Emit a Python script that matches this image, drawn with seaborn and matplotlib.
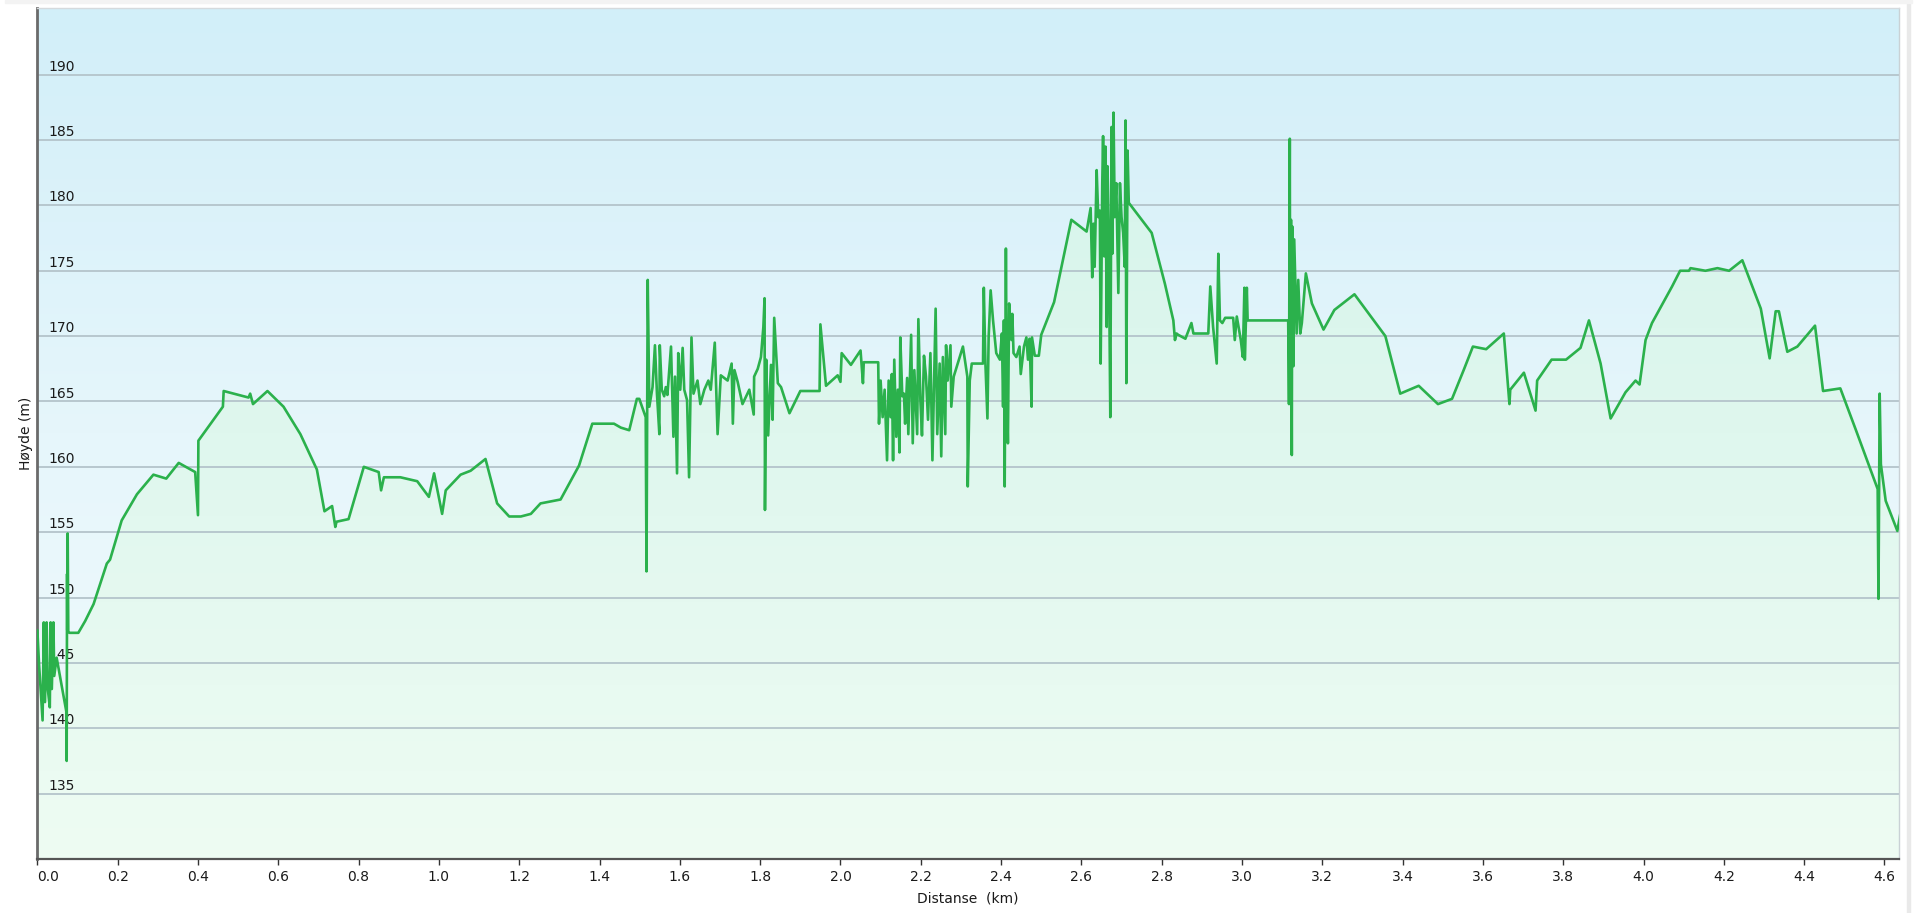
import numpy as np
import pandas as pd
import matplotlib
matplotlib.use('Agg')
import matplotlib.pyplot as plt
import seaborn as sns
from matplotlib.colors import LinearSegmentedColormap
from matplotlib.patches import Rectangle

# hoydeprofil: distanse (km) og hoyde (m)
start_km = [0.000, 0.004, 0.013, 0.016, 0.019, 0.023, 0.026, 0.031, 0.033, 0.036, 0.040, 0.042,
            0.048, 0.072, 0.073, 0.074, 0.0745, 0.0755, 0.077, 0.080, 0.102, 0.119, 0.140, 0.173,
            0.181, 0.210, 0.248, 0.289, 0.321, 0.352, 0.393, 0.400, 0.401, 0.462, 0.464, 0.526,
            0.530, 0.537, 0.573, 0.613, 0.655, 0.696, 0.715, 0.734, 0.742, 0.745, 0.775, 0.813]
start_m = [147.5, 145.0, 140.6, 148.1, 142.0, 148.1, 143.0, 141.6, 148.1, 143.0, 148.1, 144.0,
           145.4, 141.3, 137.5, 151.8, 147.5, 154.9, 147.4, 147.3, 147.3, 148.2, 149.5, 152.6,
           152.9, 155.9, 157.9, 159.4, 159.1, 160.3, 159.6, 156.3, 162.0, 164.6, 165.8, 165.3,
           165.6, 164.8, 165.8, 164.6, 162.5, 159.8, 156.6, 157.0, 155.4, 155.8, 156.0, 160.0]

flat_km = [0.850, 0.856, 0.863, 0.904, 0.946, 0.975, 0.988, 1.008, 1.017, 1.054, 1.079, 1.116,
           1.145, 1.175, 1.204, 1.229, 1.253, 1.303, 1.349, 1.382, 1.436, 1.453, 1.474, 1.493,
           1.499, 1.515, 1.517, 1.520]
flat_m = [159.6, 158.2, 159.2, 159.2, 158.9, 157.7, 159.5, 156.4, 158.2, 159.4, 159.7, 160.6,
          157.2, 156.2, 156.2, 156.4, 157.2, 157.5, 160.1, 163.3, 163.3, 163.0, 162.8, 165.2,
          165.2, 163.8, 152.0, 174.3]

noisy_km = [1.524, 1.532, 1.538, 1.543, 1.549, 1.550, 1.555, 1.561, 1.565, 1.569, 1.578, 1.584,
            1.588, 1.593, 1.596, 1.601, 1.607, 1.611, 1.618, 1.623, 1.629, 1.634, 1.644, 1.651,
            1.661, 1.671, 1.677, 1.687, 1.694, 1.702, 1.719, 1.729, 1.732, 1.736, 1.744, 1.756,
            1.773, 1.784, 1.785, 1.794, 1.802, 1.808, 1.811, 1.812, 1.815, 1.820, 1.827, 1.831,
            1.835, 1.844, 1.852, 1.873, 1.900, 1.948, 1.950, 1.964, 1.993, 2.000, 2.003, 2.026,
            2.050, 2.056, 2.058, 2.094, 2.096, 2.100, 2.105, 2.110, 2.116, 2.120, 2.125, 2.128,
            2.131, 2.134, 2.139, 2.143, 2.147, 2.149, 2.154, 2.158, 2.161, 2.166, 2.169, 2.176,
            2.180, 2.184, 2.191, 2.194, 2.199, 2.203, 2.208, 2.213, 2.218, 2.224, 2.229, 2.234,
            2.237, 2.241, 2.247, 2.251, 2.255, 2.261, 2.263, 2.267, 2.274, 2.276, 2.282, 2.292,
            2.305, 2.316, 2.317, 2.322, 2.327, 2.355, 2.357, 2.361, 2.366, 2.369, 2.374, 2.380]
noisy_m = [164.6, 166.1, 169.3, 165.6, 162.5, 169.3, 165.9, 165.4, 166.1, 165.5, 169.2, 162.3,
           166.9, 159.5, 168.7, 165.9, 169.1, 165.9, 165.1, 159.2, 169.9, 165.6, 166.6, 164.8,
           165.9, 166.6, 165.9, 169.5, 162.5, 167.0, 166.6, 167.9, 163.3, 167.4, 166.5, 164.8,
           165.9, 164.0, 166.9, 167.5, 168.4, 170.7, 172.9, 156.7, 168.2, 162.4, 167.8, 163.6,
           171.4, 166.4, 166.1, 164.1, 165.8, 165.8, 170.9, 166.2, 167.0, 166.5, 168.7, 167.8,
           168.9, 166.4, 168.0, 168.0, 163.3, 166.6, 163.8, 165.9, 160.5, 166.6, 163.8, 167.1,
           160.5, 168.2, 162.3, 165.9, 161.1, 169.9, 165.4, 165.6, 163.3, 166.8, 162.5, 170.1,
           161.8, 167.4, 162.5, 171.3, 165.1, 162.4, 168.5, 166.9, 163.6, 168.7, 160.5, 167.6,
           172.1, 162.5, 167.9, 160.8, 168.4, 162.5, 169.3, 166.6, 169.3, 164.6, 166.9, 167.9,
           169.2, 166.9, 158.5, 166.6, 167.9, 167.9, 173.7, 167.9, 163.7, 169.9, 173.5, 171.2]

top_km = [2.388, 2.397, 2.402, 2.405, 2.407, 2.409, 2.412, 2.414, 2.417, 2.420, 2.423, 2.426,
          2.428, 2.431, 2.438, 2.446, 2.449, 2.457, 2.463, 2.467, 2.471, 2.476, 2.477, 2.484,
          2.494, 2.500, 2.532, 2.575, 2.613, 2.623, 2.627, 2.630, 2.633, 2.638, 2.642, 2.646,
          2.648, 2.652, 2.654, 2.657, 2.660, 2.663, 2.665, 2.668, 2.672, 2.675, 2.677, 2.680,
          2.683, 2.687, 2.692, 2.696, 2.700, 2.704, 2.708, 2.710, 2.712, 2.715, 2.718, 2.775,
          2.808, 2.829, 2.833, 2.837, 2.841, 2.859, 2.874, 2.879, 2.916, 2.921, 2.928, 2.937,
          2.941, 2.945, 2.951, 2.958, 2.978, 2.982, 2.987, 2.997, 3.002, 3.006, 3.007, 3.012,
          3.014, 3.020, 3.115, 3.117, 3.119, 3.120, 3.122, 3.124, 3.125, 3.128, 3.130, 3.134,
          3.136, 3.140, 3.145, 3.149, 3.159, 3.174, 3.203, 3.230, 3.280, 3.357]
top_m = [168.7, 168.2, 170.2, 164.6, 171.2, 158.5, 176.7, 166.4, 161.8, 172.5, 171.2, 169.7,
         171.7, 168.7, 168.4, 169.2, 167.1, 169.2, 169.9, 168.2, 169.8, 164.6, 169.9, 168.5,
         168.5, 170.1, 172.6, 178.9, 178.0, 179.8, 174.5, 178.6, 175.3, 182.7, 179.1, 179.6,
         167.9, 181.7, 185.3, 176.1, 184.5, 170.7, 183.0, 177.9, 163.8, 186.0, 176.3, 187.1,
         179.1, 181.7, 173.3, 181.7, 179.1, 177.9, 175.3, 186.5, 166.4, 184.2, 180.2, 177.9,
         174.0, 171.2, 169.7, 170.2, 170.1, 169.8, 171.0, 170.2, 170.2, 173.8, 170.7, 167.9,
         176.3, 171.2, 171.0, 171.4, 171.4, 169.7, 171.5, 169.7, 168.4, 173.7, 168.2, 173.7,
         171.2, 171.2, 171.2, 164.8, 185.1, 166.1, 178.9, 160.9, 178.4, 167.7, 177.4, 172.8,
         170.2, 174.3, 170.2, 171.0, 174.8, 172.5, 170.5, 172.0, 173.2, 170.0]

end_km = [3.394, 3.440, 3.488, 3.523, 3.552, 3.575, 3.608, 3.652, 3.666, 3.668, 3.702, 3.731,
          3.735, 3.771, 3.807, 3.843, 3.864, 3.893, 3.918, 3.955, 3.980, 3.990, 4.005, 4.021,
          4.071, 4.091, 4.113, 4.117, 4.154, 4.184, 4.213, 4.246, 4.292, 4.314, 4.329, 4.337,
          4.358, 4.383, 4.427, 4.447, 4.490, 4.529, 4.566, 4.583, 4.585, 4.588, 4.591, 4.603,
          4.632, 4.641]
end_m = [165.6, 166.2, 164.8, 165.2, 167.4, 169.2, 169.0, 170.2, 164.8, 165.9, 167.2, 164.3,
         166.6, 168.2, 168.2, 169.1, 171.2, 167.9, 163.7, 165.7, 166.6, 166.3, 169.7, 171.0,
         173.8, 175.0, 175.0, 175.2, 175.0, 175.2, 175.0, 175.8, 172.1, 168.3, 171.9, 171.9,
         168.8, 169.2, 170.8, 165.8, 166.0, 162.8, 159.7, 158.3, 149.9, 165.6, 160.2, 157.4,
         155.1, 156.7]

y_ticks = list(range(135, 191, 5))
x_ticks = [round(0.2 * i, 1) for i in range(24)]

df = pd.DataFrame({
    'km': start_km + flat_km + noisy_km + top_km + end_km,
    'hoyde': start_m + flat_m + noisy_m + top_m + end_m,
})

sns.set_style('white')
plt.rcParams['font.family'] = ['DejaVu Sans']

fig = plt.figure(figsize=(19.16, 9.13), dpi=100)
ax = fig.add_axes([0.0195, 0.0592, 0.9716, 0.932])

# ramme rundt (lysegraa kant til hoyre og oppe)
fig.patches.append(Rectangle((1907 / 1916, 0), 3 / 1916, 1, transform=fig.transFigure,
                             color='#e9e9e9', zorder=0))
fig.patches.append(Rectangle((5 / 1916, 1 - 3 / 913), 1 - 9 / 1916, 3 / 913,
                             transform=fig.transFigure, color='#f3f3f3', zorder=0))

# bakgrunn: lyseblaa gradient
grad = np.linspace(0, 1, 256).reshape(-1, 1)
bg = LinearSegmentedColormap.from_list('bg', ['#d2eff9', '#e6f6fb', '#f2fbfd'])
ax.imshow(grad, extent=[0, 1, 0, 1], transform=ax.transAxes, aspect='auto',
          cmap=bg, zorder=0, interpolation='bicubic')

# gronn fyll under kurven
poly = ax.fill_between(df['km'], df['hoyde'], 130, color='none', linewidth=0)
fill = LinearSegmentedColormap.from_list('fill', ['#d3f3ea', '#dff7ee', '#eefcf3'])
im = ax.imshow(grad, extent=[0, 1, 0, 1], transform=ax.transAxes, aspect='auto',
               cmap=fill, zorder=0.2, interpolation='bicubic')
im.set_clip_path(poly.get_paths()[0], transform=ax.transData)

sns.lineplot(data=df, x='km', y='hoyde', ax=ax, color='#2bb14c', linewidth=1.9,
             estimator=None, sort=False, zorder=3)

ax.set_xlim(0, 4.636)
ax.set_ylim(130, 195.1)
ax.set_yticks(y_ticks)
ax.set_yticklabels([])
ax.tick_params(axis='y', length=0)
ax.grid(axis='y', color='#b4c4cb', linewidth=1.3)
ax.set_axisbelow(True)
for v in y_ticks:
    ax.text(0.0057, v + 0.3, str(v), transform=ax.get_yaxis_transform(),
            ha='left', va='baseline', fontsize=10, color='#1a1a1a', zorder=2)

ax.set_xticks(x_ticks)
ax.set_xticklabels([f'{t:.1f}' for t in x_ticks])
ax.tick_params(axis='x', direction='out', length=4, width=1, pad=4,
               labelsize=10, colors='#333333', labelcolor='#1a1a1a', bottom=True)
ax.get_xticklabels()[0].set_ha('left')

ax.set_xlabel('Distanse  (km)', fontsize=10, color='#1a1a1a', labelpad=5)
ax.set_ylabel('Høyde (m)', fontsize=10, color='#1a1a1a', labelpad=0)

for side, col, lw in [('left', '#6a6a6a', 2.0), ('bottom', '#555555', 1.6),
                      ('top', '#d5dadd', 1.0), ('right', '#c9d1d5', 1.0)]:
    ax.spines[side].set_visible(True)
    ax.spines[side].set_color(col)
    ax.spines[side].set_linewidth(lw)

fig.savefig('out.png', dpi=100)
